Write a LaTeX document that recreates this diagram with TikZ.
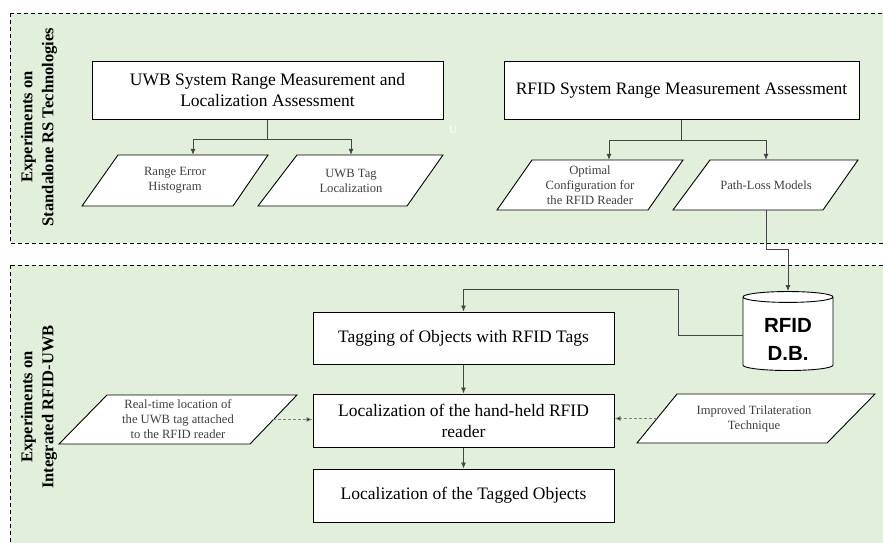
\documentclass[tikz,border=0pt]{standalone}
\usepackage{fontspec}
\setmainfont{Liberation Serif}
\newfontfamily\arialfont{Liberation Sans}
\usetikzlibrary{shapes.geometric,arrows.meta}
\definecolor{panelgreen}{HTML}{E2EFDA}
\definecolor{linegray}{HTML}{454545}
\definecolor{dashgray}{HTML}{808080}

\begin{document}
\begin{tikzpicture}[x=1pt,y=-1pt,
    panel/.style={draw=black,fill=panelgreen,line width=0.8pt,dash pattern=on 4pt off 3pt},
    sidelabel/.style={rotate=90,align=center,font=\fontsize{16.5}{21}\selectfont\bfseries,inner sep=0pt},
    box/.style={draw=black,fill=white,line width=1pt,align=center,inner sep=2pt,font=\fontsize{17.5}{21}\selectfont},
    iobox/.style={draw=black,fill=white,line width=0.9pt,line join=miter},
    iotext/.style={align=center,inner sep=0pt,text=black!75,font=\fontsize{12.6}{15}\selectfont},
    flow/.style={draw=linegray,line width=0.8pt,-{Latex[length=6pt,width=5pt]}},
    hint/.style={draw=dashgray,line width=0.8pt,dash pattern=on 3pt off 2pt,-{Latex[length=6pt,width=5pt,fill=black]}}]
    \useasboundingbox (0,0) rectangle (883,543);

    % two panels
    \draw [panel] (10,13) rectangle (895,243);
    \draw [panel] (10,265) rectangle (895,555);
    \node [sidelabel] (standalone) at (39,127) {Experiments on\\Standalone RS Technologies};
    \node [sidelabel] (integrated) at (39,407) {Experiments on\\Integrated RFID-UWB};

    % standalone experiments
    \node [box,minimum width=351pt,minimum height=57pt] (uwb) at (267.5,90.5) {UWB System Range Measurement and\\Localization Assessment};
    \node [box,minimum width=355pt,minimum height=57pt] (rfid) at (681.5,90.5) {RFID System Range Measurement Assessment};

    \draw [iobox] (82,206) -- (118,155) -- (268,155) -- (233,206) -- cycle;
    \node [iotext,minimum width=150.5pt,minimum height=51pt] (reh) at (175,180.5) {Range Error\\Histogram};
    \draw [iobox] (258,206) -- (297,155) -- (443,155) -- (407,206) -- cycle;
    \node [iotext,minimum width=147.5pt,minimum height=51pt] (uwbtag) at (351,180.5) {UWB Tag\\Localization};
    \draw [iobox] (497,210) -- (532,160) -- (683,160) -- (648,210) -- cycle;
    \node [iotext,minimum width=151pt,minimum height=50pt] (optconf) at (590,185) {Optimal\\Configuration for\\the RFID Reader};
    \draw [iobox] (673,210) -- (710,160) -- (858,160) -- (823,210) -- cycle;
    \node [iotext,minimum width=149pt,minimum height=50pt] (pathloss) at (766,185) {Path-Loss Models};
    \node [text=white,font=\fontsize{11}{13}\selectfont] (ghost) at (453,130) {U};

    \draw [linegray,line width=0.8pt] (uwb.south) -- ++(0,20) coordinate (uwbsplit);
    \draw [flow] (uwbsplit) -| ([xshift=18pt]reh.north);
    \draw [flow] (uwbsplit) -| (uwbtag.north);
    \draw [linegray,line width=0.8pt] (rfid.south) -- ++(0,21) coordinate (rfidsplit);
    \draw [flow] (rfidsplit) -| ([xshift=19pt]optconf.north);
    \draw [flow] (rfidsplit) -| (pathloss.north);

    % integrated experiments
    \node [draw=black,fill=white,line width=0.9pt,cylinder,shape border rotate=90,aspect=0.2,minimum width=90pt,minimum height=79pt,
        align=center,font=\arialfont\fontsize{20.5}{28}\selectfont\bfseries] (db) at (788,335) {\\[-6pt]RFID\\D.B.};
    \node [box,minimum width=301pt,minimum height=52pt] (tagging) at (463.5,338) {Tagging of Objects with RFID Tags};
    \node [box,minimum width=301pt,minimum height=53pt] (handheld) at (463.5,420.5) {Localization of the hand-held RFID\\reader};
    \node [box,minimum width=301pt,minimum height=53pt] (tagged) at (463.5,495.5) {Localization of the Tagged Objects};

    \draw [iobox] (59,444) -- (107,395) -- (297,395) -- (250,444) -- cycle;
    \node [iotext,minimum width=190.5pt,minimum height=49pt] (realtime) at (178,419.5) {Real-time location of\\the UWB tag attached\\to the RFID reader};
    \draw [iobox] (637,443) -- (677,394) -- (875,394) -- (827,443) -- cycle;
    \node [iotext,minimum width=194pt,minimum height=49pt] (trilat) at (754,418.5) {Improved Trilateration\\Technique};

    \coordinate (pathturn) at (766,249);
    \coordinate (dbturn) at (678,289);
    \draw [flow] (pathloss.south) -- (pathturn) -| (db.top);
    \draw [flow] (db.west) -| (dbturn) -| (tagging.north);
    \draw [flow] (tagging) -- (handheld);
    \draw [flow] (handheld) -- (tagged);
    \draw [hint] (realtime.east) -- (realtime.east -| handheld.west);
    \draw [hint] (trilat.west) -- (trilat.west -| handheld.east);
\end{tikzpicture}
\end{document}
